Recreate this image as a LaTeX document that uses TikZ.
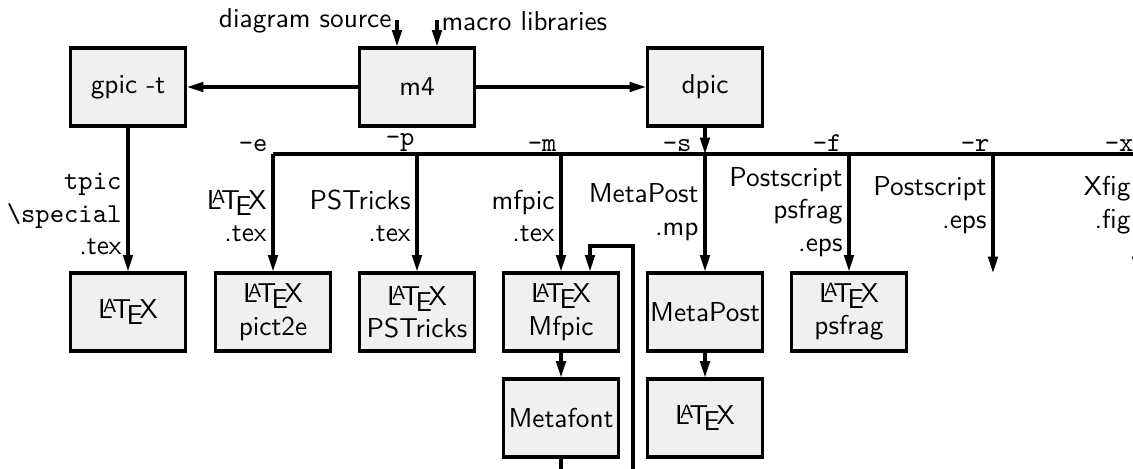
\documentclass[tikz,border=0pt]{standalone}
\usepackage{tikz}
\usetikzlibrary{arrows.meta}

\begin{document}
\begin{tikzpicture}[x=0.0139cm,y=-0.0139cm]
    \pgfmathsetmacro{\boxw}{115*0.0139}
    \pgfmathsetmacro{\boxh}{78*0.0139}
    \tikzset{
      every node/.style={font=\sffamily\fontsize{10.8}{12.8}\selectfont},
      prog/.style={draw,line width=1.2pt,fill=black!6,minimum width=\boxw cm,minimum height=\boxh cm,align=center,inner sep=1pt},
      wire/.style={line width=1.2pt},
      flow/.style={wire,-{Triangle[length=6.5pt,width=3.8pt]}},
      tag/.style={anchor=east,align=right,inner sep=0pt},
      opt/.style={anchor=south east,font=\ttfamily\fontsize{10.8}{12.8}\selectfont,inner sep=0pt}
    }
    \useasboundingbox (0,0) rectangle (1133,468);
    \clip (0,0) rectangle (1133,468);
    \node[prog] (mfour) at (417,87) {m4};
    \node[prog] (gpic) at (128,87) {gpic -t};
    \node[prog] (dpic) at (705,87) {dpic};
    \node[prog] (latexA) at (128,312) {\LaTeX};
    \node[prog] (pictii) at (273,312) {\LaTeX\\pict2e};
    \node[prog] (pstricks) at (417,312) {\LaTeX\\PSTricks};
    \node[prog] (mfpic) at (561,312) {\LaTeX\\Mfpic};
    \node[prog] (metapost) at (705,312) {MetaPost};
    \node[prog] (psfrag) at (849,312) {\LaTeX\\psfrag};
    \node[prog] (metafont) at (561,418) {Metafont};
    \node[prog] (latexB) at (705,418) {\LaTeX};
    \coordinate (srcin) at (397,20);
    \coordinate (libin) at (437,20);
    \coordinate (be) at (273,154);
    \coordinate (bp) at (417,154);
    \coordinate (bm) at (561,154);
    \coordinate (bs) at (705,154);
    \coordinate (bf) at (849,154);
    \coordinate (br) at (993,154);
    \coordinate (bx) at (1137,154);
    \coordinate (rend) at (993,273);
    \coordinate (xend) at (1137,273);
    \coordinate (mfout) at (561,480);
    \coordinate (loopin) at (633,480);
    \coordinate (loopa) at (590,246);
    \node[anchor=east,inner sep=0pt] (lsrc) at (392,21) {diagram source};
    \node[anchor=west,inner sep=0pt] (llib) at (441,21) {macro libraries};
    \node[opt] (opte) at (268,152) {-e};
    \node[opt] (optp) at (415,152) {-p};
    \node[opt] (optm) at (557,152) {-m};
    \node[opt] (opts) at (692,152) {-s};
    \node[opt] (optf) at (842,152) {-f};
    \node[opt] (optr) at (990,152) {-r};
    \node[opt] (optx) at (1134,152) {-x};
    \node[tag] (ttpic) at (122,214) {\ttfamily tpic\\\ttfamily\textbackslash special\\.tex};
    \node[tag] (tpict) at (267,216) {\LaTeX\\.tex};
    \node[tag] (tpst) at (411,216) {PSTricks\\.tex};
    \node[tag] (tmfp) at (555,216) {mfpic\\.tex};
    \node[tag] (tmp) at (699,212) {MetaPost\\.mp};
    \node[tag] (tpsf) at (843,212) {Postscript\\psfrag\\.eps};
    \node[tag] (teps) at (987,205) {Postscript\\.eps};
    \node[tag] (tfig) at (1131,205) {Xfig\\.fig};
    \draw[flow] (srcin) -- (srcin |- mfour.north);
    \draw[flow] (libin) -- (libin |- mfour.north);
    \draw[flow] (mfour) -- (gpic);
    \draw[flow] (mfour) -- (dpic);
    \draw[flow] (dpic) -- (bs);
    \draw[wire] (be) -- (bx);
    \draw[flow] (gpic) -- (latexA);
    \draw[flow] (be) -- (pictii);
    \draw[flow] (bp) -- (pstricks);
    \draw[flow] (bm) -- (mfpic);
    \draw[flow] (bs) -- (metapost);
    \draw[flow] (bf) -- (psfrag);
    \draw[flow] (br) -- (rend);
    \draw[flow] (bx) -- (xend);
    \draw[flow] (mfpic) -- (metafont);
    \draw[flow] (metapost) -- (latexB);
    \draw[wire] (metafont) -- (mfout);
    \draw[flow] (loopin) |- (loopa) -- (loopa |- mfpic.north);
\end{tikzpicture}
\end{document}
